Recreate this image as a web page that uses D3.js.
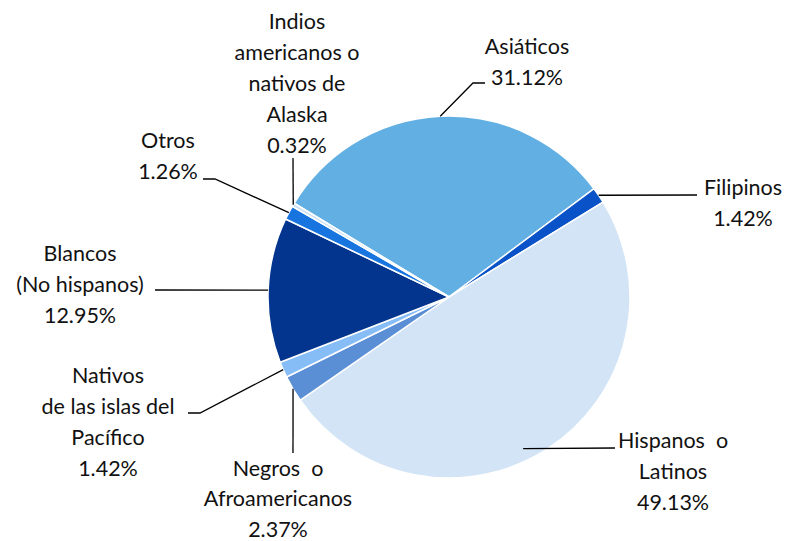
<!DOCTYPE html>
<html>
<head>
<meta charset="utf-8">
<script src="https://cdn.jsdelivr.net/npm/d3@7"></script>
<style>
  body { margin: 0; background: #fff; }
  text { font-family: Lato, "Open Sans", sans-serif; font-size: 21.5px; fill: #111; white-space: pre; }
</style>
</head>
<body>
<div id="chart"></div>
<script>
// ---------- DATA ----------
const groups = [
  "Asiáticos",
  "Filipinos",
  "Hispanos o Latinos",
  "Negros o Afroamericanos",
  "Nativos de las islas del Pacífico",
  "Blancos (No hispanos)",
  "Otros",
  "Indios americanos o nativos de Alaska",
];
const shares = [31.12, 1.42, 49.13, 2.37, 1.42, 12.95, 1.26, 0.32];
const labelLines = [
  ["Asiáticos"],
  ["Filipinos"],
  ["Hispanos  o", "Latinos"],
  ["Negros  o", "Afroamericanos"],
  ["Nativos", "de las islas del", "Pacífico"],
  ["Blancos", "(No hispanos)"],
  ["Otros"],
  ["Indios", "americanos o", "nativos de", "Alaska"],
];

// ---------- STYLE / LAYOUT ----------
const colors = ["#62b0e3", "#0a52c8", "#d2e4f5", "#5a8fd6", "#86bdf7", "#03358e", "#1874de", "#cfe2f6"];
const width = 786;
const height = 541;
const cx = 449, cy = 297, radius = 181;
const lineH = 31;
// label block centre x, first-line centre y, leader elbow points, how far the leader reaches into the pie
const labelLayout = [
  { x: 527, y: 46, leader: [[473, 83], [485, 83]], reach: 0 },
  { x: 743, y: 187, leader: [[697, 195]], reach: 0 },
  { x: 673, y: 440, leader: [[615, 448]], reach: 25 },
  { x: 278, y: 468, lineH: 30.5, leader: [[293, 453]], reach: 0 },
  { x: 108, y: 375, leader: [[200, 413], [188, 413]], reach: 0 },
  { x: 80, y: 253, leader: [[155, 290]], reach: 0 },
  { x: 168, y: 140, leader: [[215, 179], [203, 179]], reach: 0 },
  { x: 297, y: 21, leader: [[293, 158]], reach: 0 },
];

const data = groups.map((g, i) => ({ group: g, share: shares[i], lines: labelLines[i] }));

const svg = d3
  .select("#chart")
  .append("svg")
  .attr("width", width)
  .attr("height", height);

const start = (-58.8 * Math.PI) / 180;
const pie = d3
  .pie()
  .sort(null)
  .value((d) => d.share)
  .startAngle(start)
  .endAngle(start + 2 * Math.PI);
const arcs = pie(data);

const arc = d3.arc().innerRadius(0).outerRadius(radius);

const pieG = svg.append("g").attr("transform", `translate(${cx}, ${cy})`);
pieG
  .selectAll("path")
  .data(arcs)
  .enter()
  .append("path")
  .attr("d", arc)
  .attr("fill", (d, i) => colors[i])
  .attr("stroke", "#fff")
  .attr("stroke-width", 1.5);

// leader lines
const line = d3.line();
arcs.forEach((d, i) => {
  const lay = labelLayout[i];
  const mid = (d.startAngle + d.endAngle) / 2;
  let p0 = [cx + radius * Math.sin(mid), cy - radius * Math.cos(mid)];
  if (lay.reach) {
    const p1 = lay.leader[0];
    const len = Math.hypot(p0[0] - p1[0], p0[1] - p1[1]);
    p0 = [p0[0] + ((p0[0] - p1[0]) / len) * lay.reach, p0[1] + ((p0[1] - p1[1]) / len) * lay.reach];
  }
  svg
    .append("path")
    .attr("d", line([p0, ...lay.leader]))
    .attr("fill", "none")
    .attr("stroke", "#000")
    .attr("stroke-width", 1.3);
});

// labels
arcs.forEach((d, i) => {
  const lay = labelLayout[i];
  const lh = lay.lineH || lineH;
  const rows = d.data.lines.concat([d3.format(".2f")(d.data.share) + "%"]);
  const t = svg.append("text").attr("text-anchor", "middle");
  rows.forEach((r, j) => {
    t.append("tspan")
      .attr("x", lay.x)
      .attr("y", lay.y + j * lh + 7.5)
      .text(r);
  });
});
</script>
</body>
</html>
